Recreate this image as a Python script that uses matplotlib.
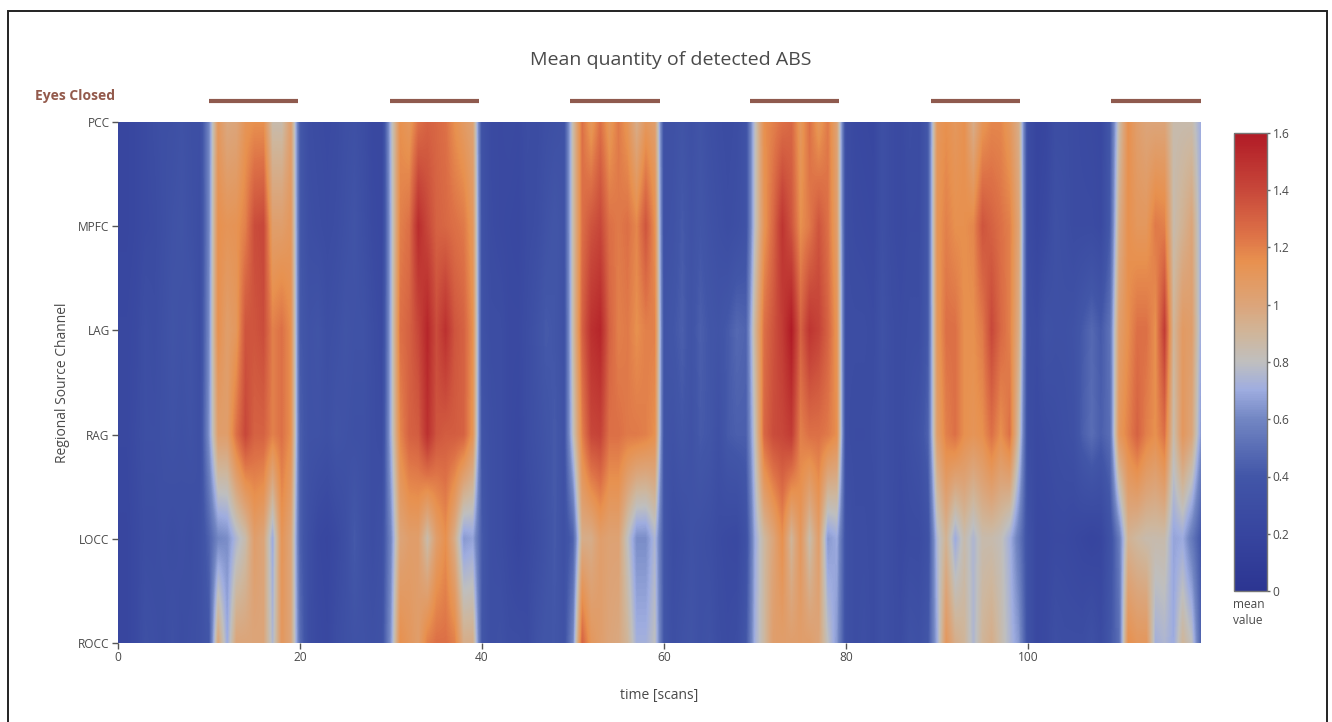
import matplotlib
matplotlib.use("Agg")
import matplotlib.pyplot as plt
from matplotlib.colors import LinearSegmentedColormap
from matplotlib.patches import Rectangle
import numpy as np

plt.rcParams['font.family'] = ['Open Sans', 'DejaVu Sans']

channels = ["PCC", "MPFC", "LAG", "RAG", "LOCC", "ROCC"]
time_ticks = [0, 20, 40, 60, 80, 100]
cbar_ticks = [0, 0.2, 0.4, 0.6, 0.8, 1, 1.2, 1.4, 1.6]
cbar_labels = ["0", "0.2", "0.4", "0.6", "0.8", "1", "1.2", "1.4", "1.6"]
bar_starts = [10.0, 29.9, 49.7, 69.4, 89.3, 109.1]
bar_ends = [19.8, 39.7, 59.5, 79.2, 99.1, 119.0]

pcc = [.22,.22,.24,.27,.30,.33,.33,.36,.33,.32,
       .60,1.10,.98,1.00,1.12,1.15,1.15,.85,.85,1.05,
       .42,.30,.28,.27,.28,.32,.34,.30,.24,.24,
       .75,1.15,1.10,1.25,1.30,1.28,1.25,1.15,1.08,1.02,
       .36,.27,.26,.27,.26,.30,.28,.32,.34,.36,
       .85,1.25,1.10,1.25,1.10,1.22,1.12,.95,1.10,1.05,
       .35,.35,.38,.34,.38,.33,.30,.28,.30,.36,
       .80,1.15,1.20,1.25,1.28,1.10,1.25,1.10,1.22,1.02,
       .30,.25,.24,.23,.33,.28,.26,.30,.28,.42,
       1.10,1.15,1.10,1.15,.95,1.12,1.18,1.18,1.10,.95,
       .30,.20,.22,.30,.30,.28,.27,.26,.24,.40,
       .85,1.15,1.05,1.00,1.00,1.00,.85,.85,.85,.70]
mpfc = [.22,.22,.24,.27,.28,.32,.36,.38,.34,.30,
        .60,1.15,1.12,1.13,1.20,1.38,1.40,1.05,1.05,1.10,
        .42,.32,.30,.28,.30,.34,.38,.32,.26,.24,
        .72,1.20,1.25,1.52,1.40,1.30,1.28,1.25,1.22,1.10,
        .36,.28,.26,.25,.24,.28,.30,.36,.40,.36,
        .85,1.25,1.35,1.40,1.25,1.22,1.25,1.18,1.35,1.15,
        .35,.36,.42,.36,.40,.36,.33,.30,.32,.36,
        .80,1.12,1.28,1.48,1.35,1.15,1.22,1.35,1.25,1.05,
        .30,.27,.26,.25,.33,.28,.26,.28,.28,.42,
        1.12,1.20,1.15,1.15,1.18,1.35,1.30,1.25,1.20,1.00,
        .28,.22,.26,.34,.32,.28,.28,.28,.26,.42,
        .95,1.15,1.10,1.10,1.22,1.20,.85,.92,1.00,.70]
lag = [.24,.24,.26,.32,.30,.34,.38,.36,.38,.30,
       .62,1.15,1.05,1.10,1.35,1.35,1.38,1.20,1.25,1.15,
       .42,.36,.38,.32,.34,.38,.36,.36,.30,.26,
       .72,1.25,1.30,1.40,1.55,1.38,1.50,1.35,1.30,1.15,
       .36,.30,.30,.26,.26,.30,.36,.42,.40,.34,
       .85,1.30,1.50,1.55,1.30,1.20,1.22,1.15,1.20,1.20,
       .38,.40,.44,.38,.44,.40,.38,.42,.48,.46,
       .90,1.25,1.35,1.45,1.60,1.30,1.48,1.42,1.30,1.12,
       .30,.30,.30,.28,.36,.30,.28,.30,.30,.42,
       1.10,1.25,1.25,1.15,1.15,1.22,1.40,1.28,1.20,.95,
       .30,.28,.36,.34,.34,.36,.42,.48,.42,.52,
       1.05,1.15,1.25,1.25,1.15,1.45,.90,1.08,1.05,.70]
rag = [.24,.24,.28,.32,.32,.34,.36,.34,.36,.32,
       .64,1.05,1.05,1.25,1.40,1.30,1.30,1.20,1.25,1.15,
       .44,.36,.36,.34,.38,.36,.34,.34,.30,.28,
       .72,1.18,1.30,1.32,1.50,1.35,1.32,1.32,1.30,1.12,
       .38,.32,.30,.26,.24,.30,.34,.38,.42,.36,
       .80,1.20,1.40,1.42,1.25,1.25,1.22,1.22,1.20,1.15,
       .38,.36,.40,.36,.42,.40,.34,.42,.44,.44,
       .82,1.28,1.38,1.40,1.45,1.20,1.25,1.25,1.22,1.15,
       .30,.28,.28,.30,.34,.30,.28,.32,.36,.45,
       1.05,1.20,1.25,1.15,1.12,1.15,1.25,1.15,1.25,.85,
       .30,.26,.28,.30,.32,.34,.44,.50,.44,.50,
       1.10,1.20,1.30,1.20,1.15,1.25,.85,1.10,1.00,.65]
locc = [.22,.22,.26,.30,.30,.32,.30,.32,.30,.34,
        .45,.60,.62,.75,.85,1.05,1.00,.70,1.12,1.00,
        .45,.32,.24,.22,.26,.32,.42,.34,.30,.34,
        .60,1.00,1.05,1.05,.85,1.05,1.15,.95,.65,.68,
        .42,.32,.30,.26,.22,.26,.30,.36,.42,.34,
        .45,.95,.95,1.05,1.02,1.02,.80,.62,.62,.75,
        .40,.30,.32,.36,.34,.32,.28,.26,.25,.34,
        .70,.88,1.00,1.15,.90,1.10,.85,1.05,.65,.70,
        .35,.30,.30,.28,.34,.30,.26,.28,.28,.35,
        .75,.92,.70,.85,.75,.85,.85,.82,.72,.55,
        .35,.24,.24,.26,.26,.24,.22,.20,.22,.35,
        .55,.92,.88,.85,.85,.85,.68,.70,.55,.40]
rocc = [.22,.22,.26,.34,.32,.30,.34,.30,.32,.34,
        .40,1.00,.70,1.00,1.00,1.00,1.00,.75,1.10,1.00,
        .50,.30,.26,.24,.30,.34,.36,.36,.34,.36,
        .65,1.15,1.10,1.05,1.20,1.25,1.25,1.20,.95,.95,
        .40,.32,.34,.30,.30,.28,.36,.40,.40,.36,
        .60,1.30,1.10,1.05,1.00,.98,.90,.72,.72,.80,
        .40,.32,.36,.38,.34,.36,.30,.28,.30,.40,
        .72,.88,1.05,1.05,1.05,1.05,1.05,1.00,.80,.65,
        .35,.30,.32,.28,.34,.30,.28,.36,.34,.40,
        .70,1.10,.95,.90,.75,.90,.95,.85,.75,.65,
        .35,.24,.26,.32,.30,.30,.30,.34,.28,.40,
        .50,1.15,1.10,1.10,.72,.75,.70,.90,.80,.45]

colour_stops = [(0.0, "#2c3592"), (0.125, "#37459f"), (0.25, "#4256a8"), (0.375, "#7286c3"),
                (0.44, "#9fade0"), (0.5, "#bfbfbf"), (0.56, "#cfb69b"), (0.625, "#dca57a"),
                (0.72, "#e8914f"), (0.78, "#dd7147"), (0.875, "#c8483a"), (1.0, "#b11b26")]
cmap = LinearSegmentedColormap.from_list("abs_map", colour_stops)

W, H = 1332, 722
grey = "#4a4a4a"

def box(x0, y0, x1, y1):
    # pixel box, y from the top
    return [x0 / W, 1 - y1 / H, (x1 - x0) / W, (y1 - y0) / H]

fig = plt.figure(figsize=(W / 100, H / 100), dpi=100)
fig.patches.append(Rectangle((8 / W, -0.01), 1319 / W, 1.01 - 11 / H, transform=fig.transFigure,
                             fill=False, edgecolor="#222222", linewidth=1.4))

ax = fig.add_axes(box(118, 122, 1201, 643))
z = np.array([pcc, mpfc, lag, rag, locc, rocc])
im = ax.imshow(z, cmap=cmap, vmin=0, vmax=1.6, aspect="auto", interpolation="bilinear",
               origin="upper", extent=[-0.5, 119.5, 5.5, -0.5])
# imshow pads half a cell, the reference runs centre to centre
ax.set_xlim(0, 119)
ax.set_ylim(5, 0)
for s in ax.spines.values():
    s.set_visible(False)
ax.set_yticks(range(len(channels)))
ax.set_yticklabels(channels)
ax.set_xticks(time_ticks)
ax.tick_params(axis="both", length=4, width=1, color="#555555", labelcolor=grey, labelsize=8.6, pad=2)
ax.set_xlabel("time [scans]", fontsize=10, color=grey, labelpad=17)
ax.set_ylabel("Regional Source Channel", fontsize=10, color=grey, labelpad=6)

for a, b in zip(bar_starts, bar_ends):
    ax.plot([a, b], [1.04, 1.04], transform=ax.get_xaxis_transform(), color="#8f5a4e",
            linewidth=3, clip_on=False, solid_capstyle="butt")

fig.text(671 / W, 1 - 60 / H, "Mean quantity of detected ABS", ha="center", va="center",
         fontsize=14, color=grey)
fig.text(35 / W, 1 - 96 / H, "Eyes Closed", ha="left", va="center", fontsize=10,
         fontweight="bold", color="#935a4c")

cax = fig.add_axes(box(1234, 133, 1267, 591))
cb = fig.colorbar(im, cax=cax)
cb.set_ticks(cbar_ticks)
cb.set_ticklabels(cbar_labels)
cb.ax.tick_params(length=2, width=1, color="#666666", labelcolor=grey, labelsize=8.6, pad=2)
cb.outline.set_edgecolor("#777777")
cb.outline.set_linewidth(1)
fig.text(1233 / W, 1 - 613 / H, "mean\nvalue", ha="left", va="center", fontsize=8.6,
         color=grey, linespacing=1.3)

fig.savefig("out.png", dpi=100)
